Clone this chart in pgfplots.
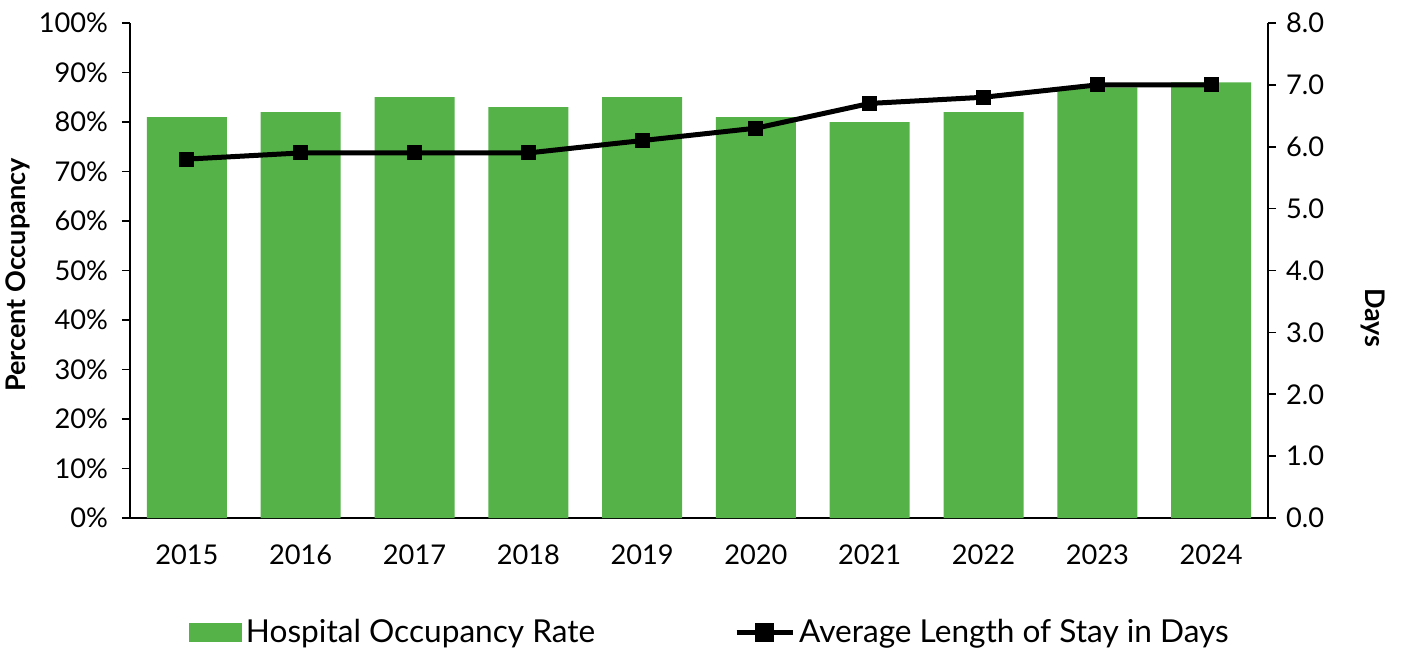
\documentclass[border=0pt]{standalone}
\usepackage{pgfplots}
\pgfplotsset{compat=1.18}
\usepackage{fontspec}
\setmainfont{Lato}
\definecolor{bargreen}{RGB}{85,178,72}
\begin{document}
\begin{tikzpicture}
\pgfplotsset{every axis/.append style={
  scale only axis, width=569pt, height=247.5pt,
  xmin=-0.5, xmax=9.5,
  /pgf/number format/assume math mode=true,
  tick label style={font=\fontsize{13.6}{16}\selectfont},
  label style={font=\bfseries\fontsize{13.5}{16}\selectfont},
  tick align=outside, major tick length=4pt,
  tick style={black, line width=0.8pt},
  axis line style={black, line width=0.8pt},
}}
\begin{axis}[
  axis y line*=left, axis x line*=bottom,
  ymin=0, ymax=100,
  ytick={0,10,...,100},
  yticklabels={0\%,10\%,20\%,30\%,40\%,50\%,60\%,70\%,80\%,90\%,100\%},
  yticklabel style={xshift=-3.5pt},
  xtick={0,...,9},
  xticklabels={2015,2016,2017,2018,2019,2020,2021,2022,2023,2024},
  x tick style={draw=none},
  xticklabel style={yshift=-6pt},
  ylabel={Percent Occupancy},
  ylabel style={at={(axis description cs:-0.0984,0.491)}, anchor=center},
  ybar, bar width=40pt,
]
\addplot[fill=bargreen, draw=none] coordinates {
 (0,81) (1,82) (2,85) (3,83) (4,85) (5,81) (6,80) (7,82) (8,87) (9,88)};
\end{axis}
\begin{axis}[
  axis y line*=right, axis x line=none,
  ymin=0, ymax=8, ytick={0,1,...,8},
  yticklabel style={xshift=1.5pt, /pgf/number format/.cd, fixed, fixed zerofill, precision=1},
  ylabel={Days},
  ylabel style={rotate=180, at={(axis description cs:1.092,0.404)}, anchor=center},
  legend style={draw=none, at={(0.5105,-0.232)}, anchor=center,
    legend columns=2, font=\fontsize{15.8}{18}\selectfont,
    /tikz/every even column/.append style={column sep=67.5pt}},
  legend cell align=left,
]
\addlegendimage{legend image code/.code={\fill[bargreen] (0pt,-4.5pt) rectangle (26pt,4.5pt);}}
\addlegendentry{Hospital Occupancy Rate}
\addplot[black, line width=2.5pt, mark=square*, mark size=3.5pt,
  mark options={solid, line width=0pt},
  legend image code/.code={\draw[black, line width=2.5pt] (0pt,0pt) -- (28pt,0pt); \fill[black] (10.5pt,-3.5pt) rectangle (17.5pt,3.5pt);}]
 coordinates {(0,5.8) (1,5.9) (2,5.9) (3,5.9) (4,6.1) (5,6.3) (6,6.7) (7,6.8) (8,7.0) (9,7.0)};
\addlegendentry{Average Length of Stay in Days}
\end{axis}
\pgfresetboundingbox
\path (-65pt,-68pt) rectangle (635.5pt,259pt);
\end{tikzpicture}
\end{document}
